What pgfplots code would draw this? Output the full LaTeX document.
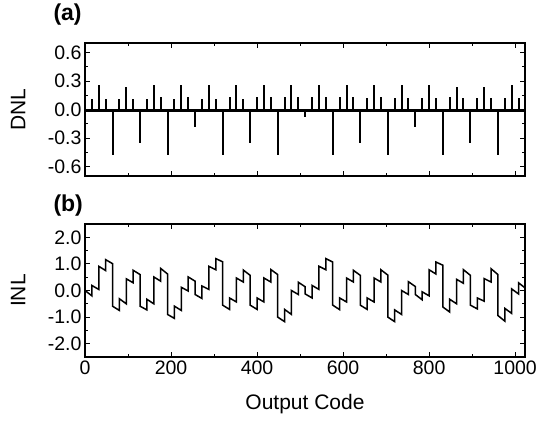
\documentclass[border=0pt]{standalone}
\usepackage{pgfplots}
\pgfplotsset{compat=1.18}
\usepackage{fontspec}
\setmainfont{Liberation Sans}

\begin{document}
\begin{tikzpicture}
\pgfplotsset{
  panel/.style={
    width=440pt, height=133pt, scale only axis,
    xmin=0, xmax=1023,
    xtick={0,200,400,600,800,1000},
    minor x tick num=1,
    minor y tick num=1,
    tick align=inside,
    major tick length=5pt, minor tick length=3pt,
    axis line style={line width=1.1pt},
    tick style={black, line width=0.9pt},
    tick label style={font=\fontsize{19.5}{23}\selectfont},
    label style={font=\fontsize{21}{25}\selectfont},
    ylabel style={at={(axis description cs:-0.152,0.5)}, anchor=center},
  }
}
\path[use as bounding box] (-85pt,-245pt) rectangle (453pt,176pt);

% (a) DNL
\begin{axis}[panel, name=top, at={(0,0)}, anchor=south west,
  ymin=-0.7, ymax=0.7,
  ytick={-0.6,-0.3,0,0.3,0.6},
  yticklabels={-0.6,-0.3,0.0,0.3,0.6},
  xticklabels={},
  ylabel={DNL}]
\addplot[black, line width=3.2pt] coordinates {(0,-0.01) (1023,-0.01)};
\addplot[black, ycomb, line width=2pt] coordinates {
  (16,0.11) (32,0.26) (48,0.11) (64,-0.48)
  (80,0.11) (96,0.24) (112,0.11) (128,-0.35)
  (144,0.11) (160,0.26) (176,0.13) (192,-0.48)
  (208,0.11) (224,0.26) (240,0.13) (256,-0.18)
  (272,0.11) (288,0.26) (304,0.11) (320,-0.48)
  (336,0.13) (352,0.26) (368,0.11) (384,-0.35)
  (400,0.13) (416,0.26) (432,0.13) (448,-0.48)
  (464,0.13) (480,0.26) (496,0.13) (512,-0.08)
  (528,0.13) (544,0.26) (560,0.13) (576,-0.48)
  (592,0.13) (608,0.26) (624,0.13) (640,-0.35)
  (656,0.12) (672,0.26) (688,0.13) (704,-0.48)
  (720,0.12) (736,0.26) (752,0.12) (768,-0.18)
  (784,0.12) (800,0.26) (816,0.12) (832,-0.48)
  (848,0.13) (864,0.24) (880,0.12) (896,-0.35)
  (912,0.12) (928,0.24) (944,0.12) (960,-0.48)
  (976,0.12) (992,0.26) (1008,0.12)
};
\end{axis}

% (b) INL
\begin{axis}[panel, name=bot, at={(0,-181pt)}, anchor=south west,
  ymin=-2.5, ymax=2.5,
  ytick={-2,-1,0,1,2},
  yticklabels={-2.0,-1.0,0.0,1.0,2.0},
  xticklabels={0,200,400,600,800,1000},
  xlabel={Output Code},
  xlabel style={at={(axis description cs:0.5,-0.398)}, anchor=base},
  ylabel={INL}]
\addplot[black, line width=1.5pt, line join=miter] coordinates {
  (0,0.00) (16,-0.20) (16,0.19) (32,0.04) (32,0.91) (48,0.75) (48,1.16) (64,1.01)
  (64,-0.59) (80,-0.75) (80,-0.31) (96,-0.50) (96,0.44) (112,0.29) (112,0.76) (128,0.60)
  (128,-0.59) (144,-0.73) (144,-0.33) (160,-0.50) (160,0.51) (176,0.35) (176,0.83) (192,0.62)
  (192,-0.90) (208,-1.05) (208,-0.59) (224,-0.75) (224,0.12) (240,-0.02) (240,0.51) (256,0.35)
  (256,-0.15) (272,-0.30) (272,0.17) (288,0.04) (288,0.91) (304,0.78) (304,1.20) (320,1.08)
  (320,-0.55) (336,-0.71) (336,-0.28) (352,-0.43) (352,0.47) (368,0.32) (368,0.77) (384,0.57)
  (384,-0.55) (400,-0.71) (400,-0.28) (416,-0.43) (416,0.47) (432,0.32) (432,0.79) (448,0.60)
  (448,-1.00) (464,-1.17) (464,-0.71) (480,-0.90) (480,0.00) (496,-0.15) (496,0.31) (512,0.14)
  (512,-0.13) (528,-0.28) (528,0.19) (544,0.04) (544,0.91) (560,0.78) (560,1.20) (576,1.07)
  (576,-0.55) (592,-0.72) (592,-0.28) (608,-0.43) (608,0.47) (624,0.32) (624,0.76) (640,0.57)
  (640,-0.55) (656,-0.71) (656,-0.28) (672,-0.43) (672,0.47) (688,0.32) (688,0.78) (704,0.58)
  (704,-1.00) (720,-1.17) (720,-0.73) (736,-0.90) (736,0.00) (752,-0.15) (752,0.33) (768,0.15)
  (768,-0.15) (784,-0.35) (784,-0.05) (800,-0.20) (800,0.78) (816,0.62) (816,1.07) (832,0.95)
  (832,-0.62) (848,-0.81) (848,-0.33) (864,-0.50) (864,0.42) (880,0.27) (880,0.78) (896,0.57)
  (896,-0.55) (912,-0.69) (912,-0.28) (928,-0.40) (928,0.45) (944,0.32) (944,0.82) (960,0.60)
  (960,-0.94) (976,-1.15) (976,-0.67) (992,-0.86) (992,0.06) (1008,-0.13) (1008,0.29) (1023,0.10)
};
\end{axis}

\node[anchor=base west, font=\bfseries\fontsize{23}{27}\selectfont] at ([xshift=-35pt, yshift=22pt]top.north west) {(a)};
\node[anchor=base west, font=\bfseries\fontsize{23}{27}\selectfont] at ([xshift=-35pt, yshift=13pt]bot.north west) {(b)};
\end{tikzpicture}
\end{document}
